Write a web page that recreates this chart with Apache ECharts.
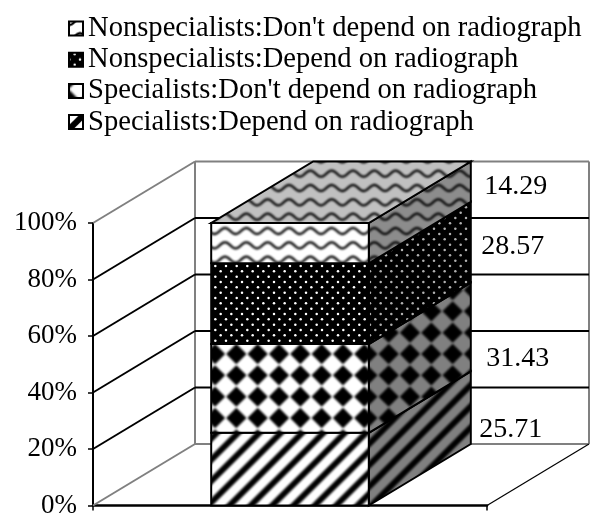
<!DOCTYPE html>
<html><head><meta charset="utf-8">
<style>html,body{margin:0;padding:0;background:#fff}#c{width:597px;height:519px}</style>
<script src="https://cdn.jsdelivr.net/npm/echarts@6/dist/echarts.min.js"></script>
</head><body><div id="c"></div>
<script>
const categories = [''];
const seriesNames = ['Specialists:Depend on radiograph','Specialists:Don\'t depend on radiograph','Nonspecialists:Depend on radiograph','Nonspecialists:Don\'t depend on radiograph'];
const seriesValues = [25.71, 31.43, 28.57, 14.29];
const legendOrder = [3,2,1,0];
const yTicks = [0,20,40,60,80,100];
// label placement relative to the side face of each segment (not data)
const labelShift = [[40,22],[47,32],[42,4],[45,5]];

const FONT = '"Liberation Serif"';
const DX = 102, DY = -61.5;
const P = 64/3;

function tile(kind, bg, phx, phy, blur, dot) {
  const h = kind === 'wave' ? 43 : 64;
  const c = document.createElement('canvas'); c.width = 64; c.height = h;
  const g = c.getContext('2d');
  g.fillStyle = bg; g.fillRect(0,0,64,h);
  g.filter = 'blur(' + (blur==null?0.8:blur) + 'px)';
  g.fillStyle = '#000'; g.strokeStyle = '#000';
  if (kind === 'stripe') {
    g.lineWidth = 6;
    for (let i=-4;i<10;i++){
      const s = phx + i*P;
      g.beginPath(); g.moveTo(s-80,80); g.lineTo(s+80,-80); g.stroke();
    }
  } else if (kind === 'diamond') {
    for (let i=-2;i<6;i++) for (let j=-2;j<6;j++){
      const x=phx+i*P, y=phy+j*P, r=10.2;
      g.beginPath(); g.moveTo(x-r,y); g.lineTo(x,y-r); g.lineTo(x+r,y); g.lineTo(x,y+r); g.closePath(); g.fill();
    }
  } else if (kind === 'dots') {
    g.filter='none'; g.fillRect(0,0,64,64);
    g.filter = 'blur(0.7px)';
    g.fillStyle = dot || '#fff';
    for (let j=-2;j<16;j++) for (let i=-2;i<9;i++){
      const x=phx+i*P/2+(j%2?P/4:0), y=phy+j*P/4;
      g.beginPath(); g.arc(x,y,1.25,0,7); g.fill();
    }
  } else if (kind === 'wave') {
    g.lineWidth = 2.3; g.strokeStyle = '#000';
    const vp = h/3;
    for (let j=-1;j<5;j++){
      g.beginPath();
      for (let x=-6;x<=70;x+=0.5){
        const y = phy + j*vp + 3*(1-Math.cos((x-phx)/P*2*Math.PI));
        x===-6?g.moveTo(x,y):g.lineTo(x,y);
      }
      g.stroke();
    }
  }
  return {image:c, repeat:'repeat'};
}
const STX = 671 % 64;
const faces = [
  {front:tile('stripe','#fff',STX), side:tile('stripe','#808080',(STX+14)%64)},
  {front:tile('diamond','#fff',215%P,354%P), side:tile('diamond','#808080',218%P,354%P)},
  {front:tile('dots','#fff',226%(P/2),276.7%(P/2)), side:tile('dots','#fff',226%(P/2),276.7%(P/2),null,'#b0b0b0')},
  {front:tile('wave','#fff',225%P,228%(43/3)), side:tile('wave','#8c8c8c',225%P,228%(43/3)), top:tile('wave','#c0c0c0',225%P,228%(43/3))}
];
// small swatches for the legend
const legendFill = [
  tile('stripe','#fff',185%P,0,0.6),
  tile('diamond','#fff',64%P,80%P,0.8),
  tile('dots','#fff',75%(P/2),60%(P/2),0.5),
  tile('wave','#fff',75%P,26%(43/3),0.5)
];

const wallSeries = {
  type:'custom', silent:true, coordinateSystem:'cartesian2d', z:1,
  data: yTicks.map(t=>[0,t]),
  renderItem(params, api){
    const v = api.value(1);
    const p = api.coord([0,v]);
    const bw = api.size([1,0])[0];
    const right = p[0]+bw/2;
    const left = p[0]-bw/2;
    const edge = (v===0||v===100);
    const col = edge ? '#808080' : '#000';
    const kids = [
      {type:'line',shape:{x1:left,y1:p[1],x2:left+DX,y2:p[1]+DY},style:{stroke:col,lineWidth:2}},
      {type:'line',shape:{x1:left+DX,y1:p[1]+DY,x2:right+DX,y2:p[1]+DY},style:{stroke:edge?'#808080':'#000',lineWidth:2}}
    ];
    if (v===0){
      const top = api.coord([0,100])[1];
      kids.push({type:'line',shape:{x1:left+DX,y1:p[1]+DY,x2:left+DX,y2:top+DY},style:{stroke:'#808080',lineWidth:2}});
      kids.push({type:'line',shape:{x1:right+DX,y1:p[1]+DY,x2:right+DX,y2:top+DY},style:{stroke:'#808080',lineWidth:2}});
      kids.push({type:'line',shape:{x1:right,y1:p[1],x2:right+DX,y2:p[1]+DY},style:{stroke:'#000',lineWidth:1.2}});
    }
    return {type:'group',children:kids};
  }
};

let acc = 0;
const barSeries = seriesNames.map((name,i)=>{
  const start = acc, end = acc + seriesValues[i]; acc = end;
  const isTop = i === seriesNames.length-1;
  return {
    type:'custom', name, z:2+i, coordinateSystem:'cartesian2d',
    itemStyle:{color:legendFill[i]},
    data:[[0,start,end,seriesValues[i]]],
    renderItem(params, api){
      const a = api.coord([api.value(0),api.value(1)]);
      const b = api.coord([api.value(0),api.value(2)]);
      const w = api.size([1,0])[0]*0.4;
      const x0=a[0]-w/2, x1=a[0]+w/2, y0=a[1], y1=b[1];
      const line={stroke:'#000',lineWidth:2,lineJoin:'miter'};
      const kids=[
        {type:'polygon',shape:{points:[[x1,y0],[x1+DX,y0+DY],[x1+DX,y1+DY],[x1,y1]]},style:Object.assign({fill:faces[i].side},line)},
        {type:'polygon',shape:{points:[[x0,y0],[x1,y0],[x1,y1],[x0,y1]]},style:Object.assign({fill:faces[i].front},line)}
      ];
      if(isTop) kids.push({type:'polygon',shape:{points:[[x0,y1],[x1,y1],[x1+DX,y1+DY],[x0+DX,y1+DY]]},style:Object.assign({fill:faces[i].top},line)});
      const mid=(y0+y1)/2;
      kids.push({type:'text',z2:50,style:{text:api.value(3).toFixed(2),x:x1+DX+labelShift[i][0],y:mid+DY+labelShift[i][1],
        font:'28px '+FONT,fill:'#000',textAlign:'center',textVerticalAlign:'middle'}});
      return {type:'group',children:kids};
    }
  };
});

const chart = echarts.init(document.getElementById('c'),null,{renderer:'canvas',width:597,height:519});
chart.setOption({
  animation:false, backgroundColor:'#fff',
  textStyle:{fontFamily:FONT},
  grid:{left:93,top:223,width:394,height:285.5,containLabel:false},
  legend:{
    orient:'vertical',left:68,top:14,padding:0,itemWidth:14,itemHeight:14,itemGap:2.2,selectedMode:false,
    textStyle:{fontFamily:FONT,fontSize:28.6,color:'#000'},
    data:legendOrder.map(i=>({name:seriesNames[i],icon:'rect',itemStyle:{color:legendFill[i],borderColor:'#000',borderWidth:2}}))
  },
  xAxis:{type:'category',data:categories,axisLine:{lineStyle:{color:'#000',width:2.5}},
    axisTick:{show:true,length:5,lineStyle:{color:'#000',width:1.5}},axisLabel:{show:false},splitLine:{show:false}},
  yAxis:{type:'value',min:0,max:100,interval:20,
    axisLine:{show:true,lineStyle:{color:'#000',width:2}},
    axisTick:{show:true,length:5,lineStyle:{color:'#000',width:1.5}},
    axisLabel:{formatter:'{value}%',fontFamily:FONT,fontSize:27,color:'#000',margin:16},
    splitLine:{show:false}},
  series:[wallSeries].concat(barSeries)
});
</script></body></html>
